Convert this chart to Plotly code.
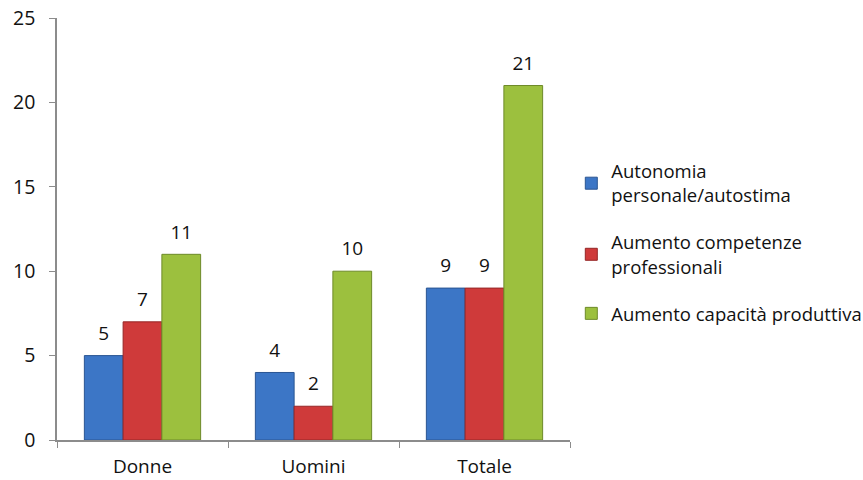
import plotly.graph_objects as go

categories = ["Donne", "Uomini", "Totale"]
series_names = [
    "Autonomia<br>personale/autostima",
    "Aumento competenze<br>professionali",
    "Aumento capacità produttiva",
]
autonomia = [5, 4, 9]
competenze = [7, 2, 9]
capacita = [11, 10, 21]

fills = ["#3c76c6", "#cf3a3a", "#9cc03e"]
edges = ["#2a5592", "#952626", "#6d8a28"]

FONT = "Open Sans, Lato, sans-serif"
GAP = 0.32

fig = go.Figure()
series = [autonomia, competenze, capacita]
for i, (name, vals, fc, ec) in enumerate(zip(series_names, series, fills, edges)):
    fig.add_trace(go.Bar(
        x=categories, y=vals, name=name, legendgroup=f"g{i}",
        offsetgroup=f"s{i}",
        marker=dict(color=fc, line=dict(color=ec, width=1)),
    ))

# value labels, placed over each bar through grouped scatter offsets
for i, vals in enumerate(series):
    fig.add_trace(go.Scatter(
        x=categories, y=vals, mode="markers+text", text=[str(v) for v in vals],
        offsetgroup=f"s{i}", showlegend=False, hoverinfo="skip",
        marker=dict(size=16, opacity=0),
        textposition="top center",
        textfont=dict(size=19, color="#111111", family=FONT),
        cliponaxis=False,
    ))

fig.update_layout(
    width=863, height=480,
    margin=dict(l=57, r=293, t=18, b=40),
    paper_bgcolor="white", plot_bgcolor="white",
    barmode="group", bargap=GAP, bargroupgap=0,
    scattermode="group", scattergap=GAP,
    font=dict(family=FONT, size=19, color="#111111"),
    showlegend=True,
    legend=dict(
        xref="container", yref="container",
        x=0.662, y=0.682, xanchor="left", yanchor="top",
        font=dict(size=18.5, color="#111111"),
        tracegroupgap=20, itemwidth=30,
        bgcolor="rgba(0,0,0,0)",
    ),
    xaxis=dict(
        showline=True, linecolor="#8c8c8c", linewidth=1.5,
        ticks="outside", tickson="boundaries", ticklen=6, tickcolor="#8c8c8c",
        showgrid=False, tickfont=dict(size=19), ticklabelstandoff=8,
        automargin=False,
    ),
    yaxis=dict(
        range=[0, 25], dtick=5, showline=True, linecolor="#8c8c8c", linewidth=1.5,
        ticks="outside", ticklen=6, tickcolor="#8c8c8c", ticklabelstandoff=10,
        showgrid=False, zeroline=False, tickfont=dict(size=19.5),
        automargin=False,
    ),
)

fig.write_html("out.html")
